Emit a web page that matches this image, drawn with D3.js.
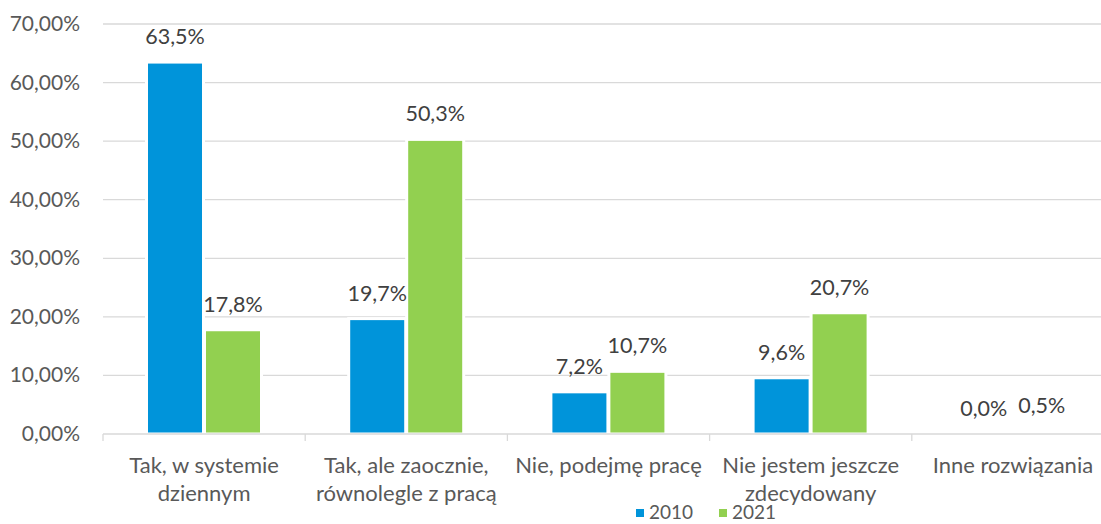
<!DOCTYPE html>
<html lang="pl">
<head>
<meta charset="UTF-8">
<title>Wykres</title>
<style>
    body { margin: 0; background: #fff; }
    svg { display: block; font-family: 'Lato', 'Open Sans', sans-serif; }
    .grid line { stroke: #d9d9d9; stroke-width: 1.3px; }
    .tick-label { fill: #595959; font-size: 21px; }
    .data-label { fill: #404040; font-size: 21.5px; }
    .cat-label { fill: #595959; font-size: 22px; }
    .legend-label { fill: #595959; font-size: 19px; }
    .bar { stroke: #fff; stroke-width: 3px; }
</style>
</head>
<body>
<svg id="chart"></svg>
<script src="https://d3js.org/d3.v7.min.js"></script>
<script>
// Data
const categories = [
    ['Tak, w systemie', 'dziennym'],
    ['Tak, ale zaocznie,', 'równolegle z pracą'],
    ['Nie, podejmę pracę'],
    ['Nie jestem jeszcze', 'zdecydowany'],
    ['Inne rozwiązania']
];
const series = ['2010', '2021'];
const values2010 = [63.5, 19.7, 7.2, 9.6, 0.0];
const values2021 = [17.8, 50.3, 10.7, 20.7, 0.5];
const yTicks = [0, 10, 20, 30, 40, 50, 60, 70];
const colors = ['#0094da', '#92d050'];

const width = 1101, height = 524;
const svg = d3.select('#chart').attr('width', width).attr('height', height);

const x0 = d3.scaleBand()
    .domain(d3.range(categories.length))
    .range([103, 1114]);
const x1 = d3.scaleBand()
    .domain(series)
    .range([43.5, 158.5])
    .paddingInner(0.017);
const y = d3.scaleLinear().domain([0, 70]).range([434, 24]);

// Gridlines (zero line drawn after the bars)
svg.append('g').attr('class', 'grid')
    .selectAll('line')
    .data(yTicks.filter(d => d > 0))
    .enter().append('line')
    .attr('x1', 103).attr('x2', width)
    .attr('y1', d => y(d)).attr('y2', d => y(d));

// Y labels
const fmtAxis = d => d.toFixed(2).replace('.', ',') + '%';
svg.append('g')
    .selectAll('text')
    .data(yTicks)
    .enter().append('text')
    .attr('class', 'tick-label')
    .attr('x', 80)
    .attr('y', d => y(d) + 7)
    .attr('text-anchor', 'end')
    .text(fmtAxis);

// Bars
const rows = categories.map((c, i) => ({ i, vals: [values2010[i], values2021[i]] }));
const groups = svg.append('g').selectAll('g')
    .data(rows)
    .enter().append('g')
    .attr('transform', d => `translate(${x0(d.i)},0)`);

groups.selectAll('rect')
    .data(d => d.vals.map((v, k) => ({ v, k })))
    .enter().append('rect')
    .attr('class', 'bar')
    .attr('x', d => x1(series[d.k]))
    .attr('width', x1.bandwidth())
    .attr('y', d => y(d.v))
    .attr('height', d => y(0) - y(d.v))
    .attr('fill', d => colors[d.k]);

const fmtVal = v => v.toFixed(1).replace('.', ',') + '%';
groups.selectAll('text')
    .data(d => d.vals.map((v, k) => ({ v, k })))
    .enter().append('text')
    .attr('class', 'data-label')
    .attr('x', d => x1(series[d.k]) + x1.bandwidth() / 2)
    .attr('y', d => y(d.v) - 18)
    .attr('text-anchor', 'middle')
    .text(d => fmtVal(d.v));

// Zero line and category tick marks
const axis = svg.append('g').attr('class', 'grid');
axis.append('line')
    .attr('x1', 103).attr('x2', width)
    .attr('y1', y(0)).attr('y2', y(0));
axis.selectAll('line.tk')
    .data(d3.range(categories.length + 1))
    .enter().append('line')
    .attr('class', 'tk')
    .attr('x1', d => 103 + d * x0.step()).attr('x2', d => 103 + d * x0.step())
    .attr('y1', y(0)).attr('y2', y(0) + 7);

// Category labels
svg.append('g').selectAll('text')
    .data(categories)
    .enter().append('text')
    .attr('class', 'cat-label')
    .attr('text-anchor', 'middle')
    .attr('x', (d, i) => x0(i) + x0.bandwidth() / 2)
    .attr('y', 473)
    .each(function(d) {
        const t = d3.select(this);
        d.forEach((line, j) => {
            t.append('tspan')
                .attr('x', t.attr('x'))
                .attr('dy', j === 0 ? 0 : 28)
                .text(line);
        });
    });

// Legend
const legend = svg.append('g');
const legendX = [636, 719];
series.forEach((s, k) => {
    legend.append('rect')
        .attr('x', legendX[k]).attr('y', 509)
        .attr('width', 8).attr('height', 8)
        .attr('fill', colors[k]);
    legend.append('text')
        .attr('class', 'legend-label')
        .attr('x', legendX[k] + 13).attr('y', 519)
        .text(s);
});
</script>
</body>
</html>
